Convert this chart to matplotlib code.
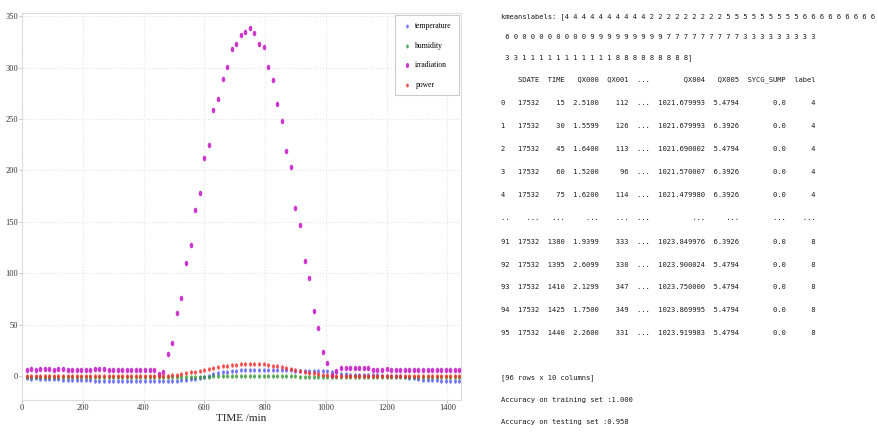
import matplotlib
matplotlib.use("Agg")
import numpy as np
import matplotlib.pyplot as plt

# time of day in minutes (96 samples, every 15 min)
time_min = [15, 30, 45, 60, 75, 90, 105, 120, 135, 150, 165, 180, 195, 210, 225, 240,
            255, 270, 285, 300, 315, 330, 345, 360, 375, 390, 405, 420, 435, 450, 465, 480,
            495, 510, 525, 540, 555, 570, 585, 600, 615, 630, 645, 660, 675, 690, 705, 720,
            735, 750, 765, 780, 795, 810, 825, 840, 855, 870, 885, 900, 915, 930, 945, 960,
            975, 990, 1005, 1020, 1035, 1050, 1065, 1080, 1095, 1110, 1125, 1140, 1155, 1170, 1185, 1200,
            1215, 1230, 1245, 1260, 1275, 1290, 1305, 1320, 1335, 1350, 1365, 1380, 1395, 1410, 1425, 1440]

temperature = [-2.0, -2.2, -2.0, -2.3, -2.5, -2.5, -2.8, -3.0, -3.2, -3.2, -3.3, -3.5, -3.5, -3.6, -3.8, -4.2,
               -4.5, -4.3, -4.5, -4.5, -4.6, -4.5, -4.6, -4.7, -4.6, -4.7, -4.8, -4.7, -4.8, -4.8, -4.8, -4.7,
               -4.5, -4.2, -3.8, -3.3, -2.8, -2.2, -1.8, -0.8, 0.5, 1.8, 3.0, 3.8, 4.5, 5.0, 5.4, 5.8,
               6.0, 6.0, 6.2, 6.1, 6.2, 6.0, 6.2, 6.0, 5.9, 5.8, 5.7, 5.6, 5.6, 5.5, 5.5, 5.3,
               5.2, 5.0, 4.8, 4.6, 4.0, 2.0, 1.8, 1.6, 1.5, 1.5, 1.3, 1.2, 1.0, 1.0, 0.8, 0.6,
               0.5, 0.3, 0.0, -0.5, -1.2, -2.0, -2.8, -3.3, -3.6, -3.8, -4.0, -4.3, -4.5, -4.6, -4.8, -5.0]

humidity = [-0.8, -0.8, -0.7, -0.8, -0.8, -0.9, -0.8, -0.8, -0.7, -0.8, -0.8, -0.8, -0.9, -0.8, -0.8, -0.8,
            -0.8, -0.8, -0.7, -0.8, -0.8, -0.8, -0.8, -0.9, -0.8, -0.8, -0.8, -0.8, -0.8, -0.9, -0.9, -1.0,
            -1.0, -1.0, -1.0, -1.0, -1.0, -1.0, -0.8, -0.5, -0.3, 0.0, 0.2, 0.3, 0.4, 0.5, 0.5, 0.5,
            0.6, 0.6, 0.5, 0.6, 0.5, 0.5, 0.4, 0.4, 0.3, 0.3, 0.2, 0.0, -0.2, -0.4, -0.6, -0.8,
            -0.9, -1.0, -1.0, -1.0, -0.9, -0.9, -0.8, -0.8, -0.8, -0.8, -0.8, -0.7, -0.8, -0.8, -0.8, -0.8,
            -0.8, -0.8, -0.8, -0.8, -0.8, -0.8, -0.8, -0.8, -0.8, -0.8, -0.8, -0.8, -0.8, -0.8, -0.8, -0.8]

irradiation = [6.6, 6.9, 6.3, 6.8, 6.8, 6.8, 6.3, 6.8, 6.8, 6.6, 5.8, 5.8, 5.8, 6.5, 6.5, 7.0,
               6.8, 6.8, 5.8, 6.2, 6.2, 6.2, 6.2, 6.2, 6.2, 6.2, 6.2, 6.2, 6.2, 2.0, 4.5, 22.0,
               32.5, 62.0, 76.5, 110.0, 128.0, 162.0, 178.0, 212.0, 225.0, 259.0, 269.0, 289.0, 301.0, 318.0, 323.0, 332.0,
               335.0, 338.0, 334.0, 323.0, 320.0, 301.0, 288.0, 265.0, 248.0, 219.0, 203.0, 164.0, 147.0, 112.0, 96.0, 63.0,
               47.0, 23.5, 13.0, 1.5, 5.6, 7.8, 8.3, 8.0, 8.3, 8.0, 8.0, 7.8, 6.5, 6.5, 6.5, 7.5,
               6.5, 6.5, 6.5, 6.5, 6.5, 6.0, 6.5, 6.0, 6.5, 6.5, 6.0, 6.5, 6.0, 6.0, 6.0, 5.8]

power = [0.0, 0.2, 0.0, 0.1, 0.0, 0.2, 0.0, 0.1, 0.0, 0.0, 0.2, 0.0, 0.1, 0.0, 0.0, 0.2,
         0.0, 0.1, 0.0, 0.0, 0.2, 0.0, 0.1, 0.0, 0.0, 0.2, 0.0, 0.1, 0.0, 0.2, 0.4, 0.5,
         1.0, 1.5, 2.2, 3.0, 3.8, 4.6, 5.4, 6.3, 7.2, 8.0, 8.8, 9.6, 10.3, 10.9, 11.4, 11.8,
         12.1, 12.2, 12.1, 11.9, 11.5, 11.0, 10.4, 9.7, 8.9, 8.0, 7.1, 6.2, 5.3, 4.4, 3.6, 2.9,
         2.2, 1.6, 1.1, 0.6, 0.4, 0.3, 0.2, 0.3, 0.2, 0.2, 0.3, 0.2, 0.2, 0.2, 0.3, 0.2,
         0.2, 0.2, 0.3, 0.2, 0.2, 0.2, 0.2, 0.3, 0.2, 0.2, 0.2, 0.2, 0.3, 0.2, 0.2, 0.2]

x_ticks = [0, 200, 400, 600, 800, 1000, 1200, 1400]
y_ticks = [0, 50, 100, 150, 200, 250, 300, 350]

# console output shown beside the plot
kmeans_labels = [4] * 10 + [2] * 9 + [5] * 9 + [6] * 10 + [0] * 9 + [9] * 9 + [7] * 9 + [3] * 11 + [1] * 11 + [8] * 9
table_columns = ["SDATE", "TIME", "QX000", "QX001", "...", "QX004", "QX005", "SYCG_SUMP", "label"]
table_index = ["0", "1", "2", "3", "4", "..", "91", "92", "93", "94", "95"]
table_rows = [
    ["17532", "15", "2.5100", "112", "...", "1021.679993", "5.4794", "0.0", "4"],
    ["17532", "30", "1.5599", "126", "...", "1021.679993", "6.3926", "0.0", "4"],
    ["17532", "45", "1.6400", "113", "...", "1021.690002", "5.4794", "0.0", "4"],
    ["17532", "60", "1.5200", "96", "...", "1021.570007", "6.3926", "0.0", "4"],
    ["17532", "75", "1.6200", "114", "...", "1021.479980", "6.3926", "0.0", "4"],
    ["...", "...", "...", "...", "...", "...", "...", "...", "..."],
    ["17532", "1380", "1.9399", "333", "...", "1023.849976", "6.3926", "0.0", "8"],
    ["17532", "1395", "2.6099", "330", "...", "1023.900024", "5.4794", "0.0", "8"],
    ["17532", "1410", "2.1299", "347", "...", "1023.750000", "5.4794", "0.0", "8"],
    ["17532", "1425", "1.7500", "349", "...", "1023.869995", "5.4794", "0.0", "8"],
    ["17532", "1440", "2.2600", "331", "...", "1023.919983", "5.4794", "0.0", "8"],
]
footer = ["[96 rows x 10 columns]", "Accuracy on training set :1.000", "Accuracy on testing set :0.958"]

# slightly tall dot, like the squeezed screenshot
th = np.linspace(0, 2 * np.pi, 40)
tall_dot = list(zip(0.65 * np.cos(th), np.sin(th)))

fig = plt.figure(figsize=(8.79, 4.32), dpi=100)
ax = fig.add_axes([22 / 879, 32 / 432, 439 / 879, 387 / 432])

ax.scatter(time_min, temperature, s=10, marker=tall_dot, color="#5050ff", alpha=0.8,
           linewidths=0, label="temperature", zorder=3)
ax.scatter(time_min, humidity, s=10, marker=tall_dot, color="#2a962a", alpha=0.8,
           linewidths=0, label="humidity", zorder=3)
ax.scatter(time_min, irradiation, s=16, marker=tall_dot, color="#cc2ccc", alpha=0.95,
           linewidths=0, label="irradiation", zorder=3)
ax.scatter(time_min, power, s=10, marker=tall_dot, color="#ff2a2a", alpha=0.85,
           linewidths=0, label="power", zorder=3)

ax.set_xlim(0, 1445)
ax.set_ylim(-23, 353)
ax.set_xticks(x_ticks)
ax.set_yticks(y_ticks)
ax.grid(True, color="#e4e4e4", linestyle=":", linewidth=0.8)
ax.set_axisbelow(True)
for sp in ax.spines.values():
    sp.set_color("#dddddd")
    sp.set_linewidth(0.8)
ax.tick_params(length=2, width=0.6, color="#bbbbbb", pad=1, labelsize=6, labelcolor="#333333")
for lab in ax.get_xticklabels() + ax.get_yticklabels():
    lab.set_family("Liberation Serif")
ax.set_xlabel("TIME /min", family="Liberation Serif", fontsize=8, labelpad=1, color="#222222")

leg = ax.legend(loc="upper right", prop={"family": "Liberation Serif", "size": 5.5},
                labelspacing=1.5, borderpad=0.9, handletextpad=0.5, borderaxespad=0.3,
                fancybox=False, edgecolor="#cccccc", framealpha=1, scatterpoints=1,
                markerscale=0.9, handlelength=1.2)
leg.get_frame().set_linewidth(0.8)

# console text on the right, monospace
lines = []
per_line = 37
chunks = [kmeans_labels[i:i + per_line] for i in range(0, len(kmeans_labels), per_line)]
for k, ch in enumerate(chunks):
    body = " ".join(str(v) for v in ch)
    if k == 0:
        body = "kmeanslabels: [" + body
    else:
        body = " " + body
    if k == len(chunks) - 1:
        body += "]"
    lines.append(body)

widths = [max(len(c), max(len(r[j]) for r in table_rows)) for j, c in enumerate(table_columns)]
idx_w = max(len(s) for s in table_index)
header = " " * idx_w + "".join("  " + c.rjust(w) for c, w in zip(table_columns, widths))
lines.append(header)
for idx, row in zip(table_index, table_rows):
    lines.append(idx.ljust(idx_w) + "".join("  " + v.rjust(w) for v, w in zip(row, widths)))

line_y = [17, 37, 58, 80, 103, 126, 149, 172, 195, 218, 242, 265, 287, 310, 333]
for s, y in zip(lines, line_y):
    fig.text(501 / 879, 1 - y / 432, s, family="DejaVu Sans Mono", fontsize=5.1,
             va="center", ha="left", color="#1a1a1a")
for s, y in zip(footer, [378, 400, 422]):
    fig.text(501 / 879, 1 - y / 432, s, family="DejaVu Sans Mono", fontsize=5.1,
             va="center", ha="left", color="#1a1a1a")

fig.savefig("out.png", dpi=100)
